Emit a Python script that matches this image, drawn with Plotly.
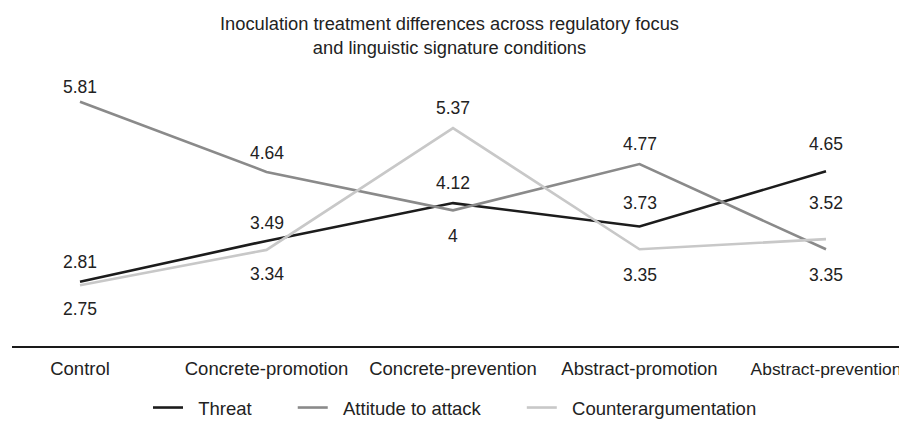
import plotly.graph_objects as go

categories = ["Control", "Concrete-promotion", "Concrete-prevention", "Abstract-promotion", "Abstract-prevention"]
threat = [2.81, 3.49, 4.12, 3.73, 4.65]
attitude = [5.81, 4.64, 4.00, 4.77, 3.35]
counter = [2.75, 3.34, 5.37, 3.35, 3.52]

series_names = ["Threat", "Attitude to attack", "Counterargumentation"]
series_values = [threat, attitude, counter]

# styling (not data)
colors = ["#1c1c1c", "#8a8a8a", "#c8c8c8"]
label_shift = [
    [20, 18, 20, 24, 27],
    [15, 19, -26, 20, -26],
    [-24, -24, 20, -26, 36],
]
FONT = "Liberation Sans, Arial, Helvetica, sans-serif"
TXT = "#222222"
NB = "\u00a0"

# page body has an 8px margin; figure starts at screen (8, 8)
W, H = 899, 411
L, R, T, B = 4, 0, 52, 73
PW, PH = W - L - R, H - T - B

fig = go.Figure()
xs = list(range(len(categories)))
for name, vals, col in zip(series_names, series_values, colors):
    fig.add_trace(go.Scatter(
        x=xs, y=vals, mode="lines", name=NB * 2 + name + NB * 7,
        line=dict(color=col, width=2.6),
        hoverinfo="skip",
    ))

annotations = []
for vals, shifts in zip(series_values, label_shift):
    for i, (v, s) in enumerate(zip(vals, shifts)):
        annotations.append(dict(
            x=i, y=v, xref="x", yref="y", text=f"{v:g}", showarrow=False,
            yshift=s, font=dict(family=FONT, size=17.5, color=TXT),
        ))

annotations.append(dict(
    x=(441 - L) / PW, y=1, xref="paper", yref="paper", xanchor="center", yanchor="top",
    yshift=49,
    text="Inoculation treatment differences across regulatory focus<br>and linguistic signature conditions",
    showarrow=False, font=dict(family=FONT, size=18.3, color=TXT),
))

# last tick label slightly smaller so it fits within the visible edge
tick_text = list(categories)
tick_text[-1] = "<span style='font-size:17.4px'>" + categories[-1] + "</span>"

fig.update_layout(
    width=W, height=H,
    margin=dict(l=L, r=R, t=T, b=B, autoexpand=False),
    paper_bgcolor="white", plot_bgcolor="white",
    showlegend=True,
    legend=dict(
        orientation="h", x=(140 - L) / PW, xanchor="left",
        y=-62 / PH, yanchor="middle",
        font=dict(family=FONT, size=18.5, color=TXT),
        bgcolor="rgba(0,0,0,0)",
    ),
    annotations=annotations,
    xaxis=dict(
        range=[-68 / 186.5, 4 + 81 / 186.5],
        tickmode="array", tickvals=xs, ticktext=tick_text,
        showgrid=False, zeroline=False,
        showline=True, linecolor="#1a1a1a", linewidth=2,
        ticks="", ticklabelstandoff=5, ticklabeloverflow="allow",
        automargin=False,
        tickfont=dict(family=FONT, size=18.5, color=TXT),
    ),
    yaxis=dict(
        range=[(450.3 - 346) / 60, (450.3 - 60) / 60],
        showgrid=False, zeroline=False, showline=False,
        showticklabels=False, ticks="", automargin=False,
    ),
)

fig.write_html("out.html")
